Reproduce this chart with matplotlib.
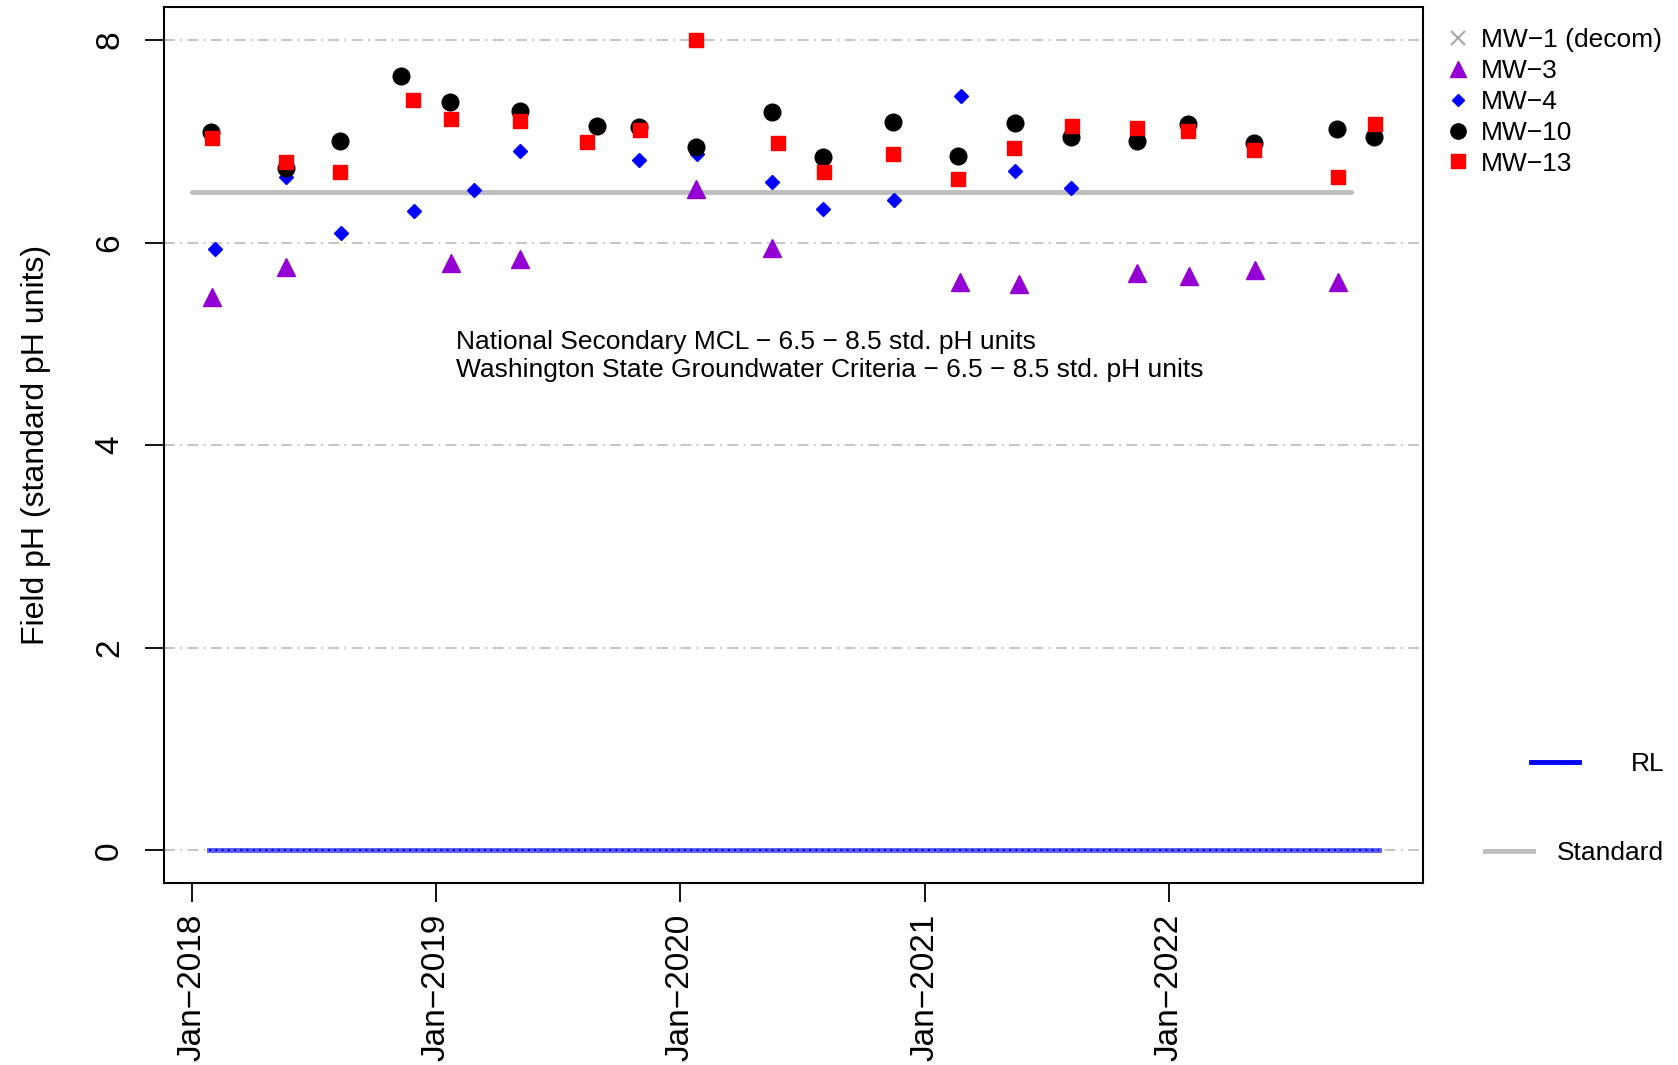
import matplotlib
matplotlib.use('Agg')
import matplotlib.pyplot as plt
import matplotlib.dates as mdates
from matplotlib.lines import Line2D
import numpy as np
import pandas as pd

plt.rcParams['font.family'] = ['Liberation Sans', 'DejaVu Sans']

# Field pH by well (sample dates and readings)
mw3_dates = ['2018-01-31', '2018-05-21', '2019-01-24', '2019-05-06', '2020-01-25', '2020-05-18',
             '2021-02-22', '2021-05-22', '2021-11-14', '2022-01-31', '2022-05-10', '2022-09-11']
mw3_ph = [5.46, 5.76, 5.80, 5.84, 6.53, 5.95, 5.61, 5.59, 5.70, 5.67, 5.73, 5.61]

mw4_dates = ['2018-02-04', '2018-05-22', '2018-08-12', '2018-11-29', '2019-02-26', '2019-05-06',
             '2019-11-01', '2020-01-27', '2020-05-18', '2020-08-01', '2020-11-16', '2021-02-24',
             '2021-05-16', '2021-08-07']
mw4_ph = [5.94, 6.65, 6.09, 6.31, 6.52, 6.90, 6.81, 6.87, 6.60, 6.33, 6.42, 7.45, 6.71, 6.54]

mw10_dates = ['2018-01-30', '2018-05-21', '2018-08-10', '2018-11-09', '2019-01-22', '2019-05-06',
              '2019-08-29', '2019-11-01', '2020-01-25', '2020-05-18', '2020-08-01', '2020-11-15',
              '2021-02-20', '2021-05-16', '2021-08-07', '2021-11-14', '2022-01-29', '2022-05-08',
              '2022-09-09', '2022-11-04']
mw10_ph = [7.09, 6.74, 7.00, 7.64, 7.39, 7.30, 7.15, 7.14, 6.94, 7.29,
           6.84, 7.19, 6.85, 7.18, 7.04, 7.00, 7.17, 6.98, 7.12, 7.04]

mw13_dates = ['2018-01-31', '2018-05-21', '2018-08-10', '2018-11-27', '2019-01-24', '2019-05-06',
              '2019-08-15', '2019-11-02', '2020-01-25', '2020-05-26', '2020-08-03', '2020-11-15',
              '2021-02-20', '2021-05-15', '2021-08-09', '2021-11-14', '2022-01-29', '2022-05-08',
              '2022-09-11', '2022-11-06']
mw13_ph = [7.03, 6.79, 6.70, 7.41, 7.22, 7.20, 6.99, 7.11, 8.00, 6.98,
           6.70, 6.87, 6.63, 6.93, 7.15, 7.13, 7.10, 6.91, 6.65, 7.17]

# Standard (lower pH limit) and reporting limit lines
std_dates = ['2018-01-01', '2022-10-01']
std_value = 6.5
rl_dates = ['2018-01-26', '2022-11-12']
rl_value = 0.0

year_ticks = ['2018-01-01', '2019-01-01', '2020-01-01', '2021-01-01', '2022-01-01']
x_limits = ['2017-11-20', '2023-01-16']

fig = plt.figure(figsize=(16.78, 10.65), dpi=100)
ax = fig.add_axes([0.0977, 0.171, 0.7503, 0.822])

to_dt = pd.to_datetime

# horizontal grid
for yv in [0, 2, 4, 6, 8]:
    ax.axhline(yv, color='#c0c0c0', lw=1.3, ls=(0, (6, 3, 1, 3)), zorder=1)

ax.plot(to_dt(std_dates), [std_value] * 2, color='#bebebe', lw=3.5, solid_capstyle='round', zorder=2)
ax.plot(to_dt(rl_dates), [rl_value] * 2, color='#5a5aff', lw=3.5, zorder=2)
ax.plot(to_dt(rl_dates), [rl_value] * 2, color='#0000cc', lw=1.5, ls=(0, (1, 2)), zorder=3)

ax.plot(to_dt(mw3_dates), mw3_ph, ls='none', marker='^', ms=13, color='#9400d3', zorder=4)
ax.plot(to_dt(mw4_dates), mw4_ph, ls='none', marker='D', ms=7.5, color='#0000ff', zorder=4)
ax.plot(to_dt(mw10_dates), mw10_ph, ls='none', marker='o', ms=12, color='black', zorder=4)
ax.plot(to_dt(mw13_dates), mw13_ph, ls='none', marker='s', ms=10.5, color='#ff0000', zorder=5)

ax.text(to_dt('2019-01-31'), 4.88,
        'National Secondary MCL \u2212 6.5 \u2212 8.5 std. pH units\n'
        'Washington State Groundwater Criteria \u2212 6.5 \u2212 8.5 std. pH units',
        fontsize=19, va='center', ha='left', linespacing=1.25)

ax.set_xlim(to_dt(x_limits[0]), to_dt(x_limits[1]))
ax.set_ylim(-0.32, 8.32)
ax.set_xticks(to_dt(year_ticks))
ax.xaxis.set_major_formatter(mdates.DateFormatter('Jan\u2212%Y'))
ax.set_yticks([0, 2, 4, 6, 8])
ax.tick_params(axis='both', length=14, width=1.3, labelsize=24, direction='out')
ax.tick_params(axis='x', labelrotation=90, pad=8)
ax.tick_params(axis='y', pad=14)
for lab in ax.get_yticklabels():
    lab.set_rotation(90)
    lab.set_va('center')
for sp in ax.spines.values():
    sp.set_linewidth(1.5)
ax.set_ylabel('Field pH (standard pH units)', fontsize=23, labelpad=31)

well_handles = [
    Line2D([], [], ls='none', marker='x', ms=10, mew=1.5, color='#a8a8a8'),
    Line2D([], [], ls='none', marker='^', ms=11, color='#9400d3'),
    Line2D([], [], ls='none', marker='D', ms=6.5, color='#0000ff'),
    Line2D([], [], ls='none', marker='o', ms=11, color='black'),
    Line2D([], [], ls='none', marker='s', ms=10, color='#ff0000'),
]
well_labels = ['MW\u22121 (decom)', 'MW\u22123', 'MW\u22124', 'MW\u221210', 'MW\u221213']
fig.legend(well_handles, well_labels, loc='upper left', bbox_to_anchor=(0.8624, 0.9735),
           frameon=False, fontsize=19, handlelength=0.8, handletextpad=0.49,
           labelspacing=0.26, borderpad=0, borderaxespad=0)

fig.legend([Line2D([], [], color='#0000ff', lw=3.5)], ['RL'], loc='center right',
           bbox_to_anchor=(0.9918, 0.2826), frameon=False, fontsize=19,
           handlelength=1.84, handletextpad=1.95, borderpad=0, borderaxespad=0)
fig.legend([Line2D([], [], color='#bebebe', lw=3.5)], ['Standard'], loc='center right',
           bbox_to_anchor=(0.9918, 0.199), frameon=False, fontsize=19,
           handlelength=1.84, handletextpad=0.9, borderpad=0, borderaxespad=0)

fig.savefig('out.png', dpi=100)
